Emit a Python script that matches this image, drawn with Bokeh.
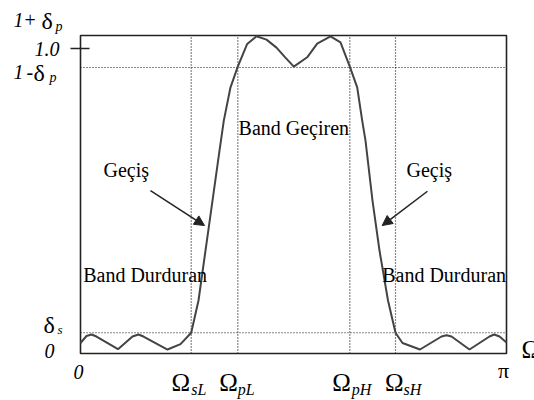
import math

from bokeh.plotting import figure
from bokeh.models import Range1d, Label, Arrow, NormalHead
from bokeh.embed import file_html
from bokeh.resources import INLINE

# Band edges (rad/sample)
w_sL = 0.8164
w_pL = 1.1600
w_pH = 1.9860
w_sH = 2.3230

# Tolerance levels
pass_upper = 1.043   # 1 + delta_p
pass_lower = 0.938   # 1 - delta_p
stop_level = 0.068   # delta_s

# Magnitude response |H(w)| sampled along the frequency axis
omega = [
    0.0000, 0.0442, 0.0811, 0.1180, 0.2765, 0.3835, 0.4277, 0.4646, 0.6416, 0.7375,
    0.8164, 0.8702, 0.9218, 0.9735, 1.0251, 1.0568, 1.1062, 1.1600, 1.2293, 1.2979,
    1.3717, 1.4454, 1.5044, 1.5730, 1.6718, 1.7456, 1.8437, 1.9174, 1.9860, 2.0406,
    2.0774, 2.1018, 2.1534, 2.2050, 2.2677, 2.3230, 2.3746, 2.5037, 2.6622, 2.6991,
    2.7360, 2.8687, 3.0162, 3.0509, 3.0900, 3.1416,
]
magnitude = [
    0.0344, 0.0574, 0.0623, 0.0557, 0.0141, 0.0557, 0.0623, 0.0557, 0.0131, 0.0308,
    0.0680, 0.1738, 0.3377, 0.5016, 0.6656, 0.7639, 0.8731, 0.9410, 1.0154, 1.0403,
    1.0295, 1.0033, 0.9738, 0.9410, 0.9715, 1.0164, 1.0403, 1.0207, 0.9410, 0.8731,
    0.7639, 0.6984, 0.5016, 0.3377, 0.1738, 0.0680, 0.0344, 0.0131, 0.0557, 0.0600,
    0.0557, 0.0131, 0.0557, 0.0623, 0.0557, 0.0361,
]

SERIF = "Liberation Serif"
INK = "#222222"

# Canvas layout: the response box is 426 x 318 px, with margins for the labels
W, H = 534, 400
BOX_L, BOX_R, BOX_T, BOX_B = 80, 28, 35, 47
px_x = (W - BOX_L - BOX_R) / math.pi          # pixels per radian
px_y = (H - BOX_T - BOX_B) / pass_upper       # pixels per unit magnitude

p = figure(
    width=W, height=H,
    x_range=Range1d(-BOX_L / px_x, math.pi + BOX_R / px_x),
    y_range=Range1d(-BOX_B / px_y, pass_upper + BOX_T / px_y),
    output_backend="svg", toolbar_location=None,
    x_axis_location=None, y_axis_location=None,
    min_border=0, title=None,
)
p.grid.visible = False
p.background_fill_color = "white"
p.border_fill_color = "white"
p.outline_line_color = None

# Tolerance guide lines (dotted)
GUIDE = dict(line_color="#111111", line_width=1.2, line_dash="1 2")
p.segment(x0=[0, 0], y0=[pass_lower, stop_level],
          x1=[math.pi, math.pi], y1=[pass_lower, stop_level], **GUIDE)
edges = [w_sL, w_pL, w_pH, w_sH]
p.segment(x0=edges, y0=[0] * 4, x1=edges, y1=[pass_upper] * 4, **GUIDE)

# Response box and the tick at unity gain
p.quad(left=0, right=math.pi, bottom=0, top=pass_upper,
       fill_color=None, line_color=INK, line_width=1.6)
p.segment(x0=-10 / px_x, y0=1.0, x1=9 / px_x, y1=1.0, line_color=INK, line_width=1.5)

# Response curve
p.line(omega, magnitude, line_color="#444444", line_width=2)

BASE_FIX = 7  # lift alphabetic baselines to their drawn position


def lab(x, y, text, size, style="normal", align="left", dx=0, dy=0):
    p.add_layout(Label(
        x=x, y=y, text=text, text_font=SERIF, text_font_size=f"{size}px",
        text_font_style=style, text_align=align, text_baseline="alphabetic",
        x_offset=dx, y_offset=dy + BASE_FIX, text_color="black",
    ))


# Left-hand level labels
lab(0, pass_upper, "1", 20, "italic", dx=-67, dy=9)
lab(0, pass_upper, "+", 20, dx=-56, dy=9)
lab(0, pass_upper, "δ", 24, dx=-39, dy=8)
lab(0, pass_upper, "p", 14, "italic", dx=-25, dy=2)

lab(0, 1.0, "1.0", 20, "italic", align="right", dx=-21, dy=-7)

lab(0, pass_lower, "1", 20, "italic", dx=-67, dy=-11)
lab(0, pass_lower, "-", 20, dx=-54, dy=-11)
lab(0, pass_lower, "δ", 24, dx=-47, dy=-12)
lab(0, pass_lower, "p", 14, "italic", dx=-31, dy=-17)

lab(0, stop_level, "δ", 24, dx=-37, dy=1)
lab(0, stop_level, "s", 13, "italic", dx=-23, dy=-4)
lab(0, 0, "0", 20, "italic", dx=-36, dy=-4)

# Frequency axis labels
lab(0, 0, "0", 20, "italic", dx=-7, dy=-25)
lab(math.pi, 0, "π", 22, align="center", dx=-3, dy=-24)
lab(math.pi, 0, "Ω", 25, dx=15, dy=-3)

for edge, sub, dx_main, dx_sub in ((w_sL, "sL", -1, 0), (w_pL, "pL", 0, 0),
                                   (w_pH, "pH", 1, 2), (w_sH, "sH", 8, 8)):
    lab(edge, 0, "Ω", 25, align="right", dx=dx_main, dy=-36)
    lab(edge, 0, sub, 16, "italic", dx=dx_sub, dy=-43)

# Region annotations
lab((w_pL + w_pH) / 2, 0.718, "Band Geçiren", 20, align="center")
lab(0.1696, 0.580, "Geçiş", 20)
lab(2.404, 0.580, "Geçiş", 20)
lab(0.0199, 0.234, "Band Durduran", 20)
lab(2.2249, 0.234, "Band Durduran", 20)

# Arrows pointing at the transition bands
for xs, ys, xe, ye in ((0.5162, 0.5344, 0.9145, 0.4197), (2.559, 0.5321, 2.2249, 0.4197)):
    p.add_layout(Arrow(
        end=NormalHead(size=10, fill_color=INK, line_color=INK),
        x_start=xs, y_start=ys, x_end=xe, y_end=ye,
        line_color=INK, line_width=1.5,
    ))

open("out.html", "w").write(file_html(p, INLINE))
